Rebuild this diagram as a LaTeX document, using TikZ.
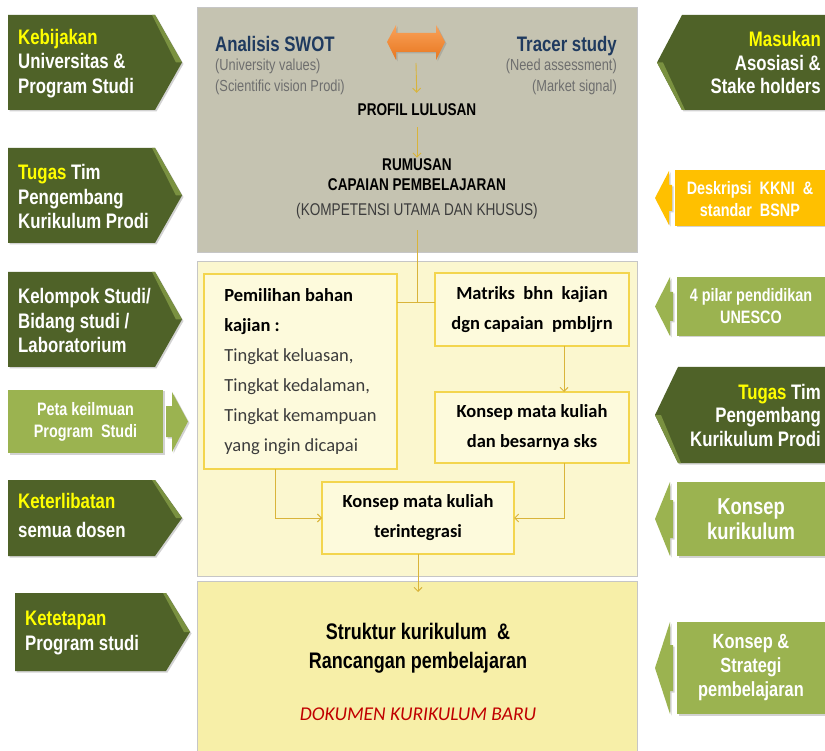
\documentclass[tikz,border=0pt]{standalone}
\usepackage{fontspec}
\setmainfont{Liberation Sans}
\newfontfamily\nar[FakeStretch=0.8]{Liberation Sans}
\newfontfamily\calfont{Carlito}
\usetikzlibrary{arrows.meta,calc,shadows}
\definecolor{dkgreen}{HTML}{4F6228}
\definecolor{bevel}{HTML}{7A9140}
\definecolor{ltgreen}{HTML}{9BB350}
\definecolor{goldbox}{HTML}{FFC000}
\definecolor{graybox}{HTML}{C5C3B1}
\definecolor{paleyel}{HTML}{FBF7CF}
\definecolor{boxyel}{HTML}{FDFADC}
\definecolor{boxedge}{HTML}{F3D54E}
\definecolor{botyel}{HTML}{F7EFA8}
\definecolor{linecol}{HTML}{D9B43A}
\definecolor{navy}{HTML}{1F3A5F}
\definecolor{hiyel}{HTML}{FFFF00}
\definecolor{dokred}{HTML}{C00000}
\definecolor{orngA}{HTML}{F9A25A}
\definecolor{orngB}{HTML}{E8761E}
\definecolor{subgray}{HTML}{6E6E6E}
\definecolor{txtgray}{HTML}{3C3C3C}
\begin{document}
\begin{tikzpicture}[x=1pt,y=-1pt,
  shd/.style={drop shadow={opacity=0.35,shadow xshift=1.5pt,shadow yshift=-1.5pt}},
  bigtxt/.style={font=\nar\bfseries\fontsize{21}{24.5}\selectfont, text=white, inner sep=0pt},
  smtxt/.style={font=\nar\bfseries\fontsize{18}{22}\selectfont, text=white, align=center, inner sep=0pt},
  panel/.style={draw=gray!45, line width=0.6pt, inner sep=0pt, outer sep=0pt},
  inbox/.style={draw=boxedge, line width=1.2pt, fill=boxyel, inner sep=0pt, outer sep=0pt,
    font=\calfont\bfseries\fontsize{18.5}{30}\selectfont},
  ln/.style={draw=linecol, line width=0.9pt},
  arr/.style={ln, -{Straight Barb[length=4pt,width=8pt]}}]
\useasboundingbox (0,0) rectangle (825,751);
\fill[white] (0,0) rectangle (825,751);

% ---------- central panels ----------
\node[panel, fill=graybox, minimum width=440pt, minimum height=245pt] (toppanel) at (417,129.5) {};
\node[panel, fill=paleyel, minimum width=440pt, minimum height=315pt] (midpanel) at (417,418.5) {};
\node[panel, fill=botyel, minimum width=440pt, minimum height=171pt] (botpanel) at (417,666.5) {};

% ---------- top panel content ----------
\shade[top color=orngA, bottom color=orngB, shd]
  (387,42) -- (396,25) -- (396,33) -- (436,33) -- (436,25) -- (445,42)
  -- (436,60) -- (436,52) -- (396,52) -- (396,60) -- cycle;
\coordinate (dblS) at (416,63);

\node[font=\nar\bfseries\fontsize{21}{24}\selectfont, text=navy, anchor=base west, inner sep=0pt] (swot) at (215,52) {Analisis SWOT};
\node[font=\nar\fontsize{16}{21}\selectfont, text=subgray, anchor=north west, align=left, inner sep=0pt] (swotsub) at (215,59) {(University values)\\(Scientific vision Prodi)};
\node[font=\nar\bfseries\fontsize{21}{24}\selectfont, text=navy, anchor=base east, inner sep=0pt] (tracer) at (617,52) {Tracer study};
\node[font=\nar\fontsize{16}{21}\selectfont, text=subgray, anchor=north east, align=right, inner sep=0pt] (tracersub) at (617,59) {(Need assessment)\\(Market signal)};

\node[font=\nar\bfseries\fontsize{17}{20}\selectfont, inner sep=0pt] (profil) at (417,110) {PROFIL LULUSAN};
\node[font=\nar\bfseries\fontsize{17}{20}\selectfont, align=center, inner sep=0pt] (rum) at (417,189)
  {RUMUSAN\\CAPAIAN PEMBELAJARAN\\[5pt]{\mdseries\color{txtgray}(KOMPETENSI UTAMA DAN KHUSUS)}};

\draw[arr, shorten >=11pt] (dblS) -- (profil.north);
\draw[arr, shorten <=11pt, shorten >=1pt] (profil.south) -- (rum.north);

% ---------- middle panel boxes ----------
\node[inbox, minimum width=193pt, minimum height=195pt, align=left] (pem) at (300.5,371.5)
  {Pemilihan bahan\\kajian :\\{\mdseries\color{txtgray}Tingkat keluasan,}\\{\mdseries\color{txtgray}Tingkat kedalaman,}\\{\mdseries\color{txtgray}Tingkat kemampuan}\\{\mdseries\color{txtgray}yang ingin dicapai}};
\node[inbox, minimum width=194pt, minimum height=73pt, align=center] (mat) at (532,309.5)
  {Matriks~~bhn~~kajian\\dgn capaian~~pmbljrn};
\node[inbox, minimum width=194pt, minimum height=71pt, align=center] (sks) at (532,427.5)
  {Konsep mata kuliah\\dan besarnya sks};
\node[inbox, minimum width=192pt, minimum height=72pt, align=center] (integ) at (418,518)
  {Konsep mata kuliah\\terintegrasi};

\coordinate (jn) at (417,302);
\draw[ln, shorten <=11pt] (rum.south) -- (jn);
\draw[ln] (pem.east |- jn) -- (mat.west |- jn);
\draw[arr] ($(mat.south)+(32,0)$) -- ($(sks.north)+(32,0)$);
\draw[arr] ($(pem.south)+(-25.5,0)$) |- (integ.west);
\draw[arr] ($(sks.south)+(32,0)$) |- (integ.east);
\coordinate (botin) at (418,592);
\draw[arr] (integ.south) -- (botin);

% ---------- bottom panel ----------
\node[font=\nar\bfseries\fontsize{22.5}{29}\selectfont, align=center, inner sep=0pt] (strukt) at (418,648)
  {Struktur kurikulum~~\&\\Rancangan pembelajaran};
\node[font=\calfont\itshape\fontsize{19.5}{22}\selectfont, text=dokred, inner sep=0pt] (dok) at (418,714)
  {DOKUMEN KURIKULUM BARU};

% ---------- left side ----------
\fill[dkgreen, shd] (8,15) -- (155,15) -- (182,62.5) -- (155,110) -- (8,110) -- cycle;
\fill[bevel] (152,15) -- (155,15) -- (182,62.5) -- (176,62.5) -- cycle;
\node[bigtxt, anchor=west, align=left] (kebij) at (18,63.5) {\textcolor{hiyel}{Kebijakan}\\Universitas \&\\Program Studi};

\fill[dkgreen, shd] (8,148) -- (155,148) -- (182,195.5) -- (155,243) -- (8,243) -- cycle;
\fill[bevel] (152,148) -- (155,148) -- (182,195.5) -- (176,195.5) -- cycle;
\node[bigtxt, anchor=west, align=left] (tugasL) at (18,196.5) {\textcolor{hiyel}{Tugas} Tim\\Pengembang\\Kurikulum Prodi};

\fill[dkgreen, shd] (8,272) -- (155,272) -- (182,319.5) -- (155,367) -- (8,367) -- cycle;
\fill[bevel] (152,272) -- (155,272) -- (182,319.5) -- (176,319.5) -- cycle;
\node[bigtxt, anchor=west, align=left] (kelompok) at (18,320.5) {Kelompok Studi/\\Bidang studi /\\Laboratorium};

\node[fill=ltgreen, shd, minimum width=155pt, minimum height=63pt, inner sep=0pt] (petabox) at (85.5,421.5) {};
\node[smtxt] (peta) at (85.5,421.5) {Peta keilmuan\\Program~~Studi};
\fill[ltgreen, shd] (188,421.5) -- (172,392) -- (172,406) -- (166,406) -- (166,437) -- (172,437) -- (172,452) -- cycle;

\fill[dkgreen, shd] (8,480) -- (155,480) -- (182,518) -- (155,556) -- (8,556) -- cycle;
\fill[bevel] (152,480) -- (155,480) -- (182,518) -- (176,518) -- cycle;
\node[bigtxt, anchor=west, align=left, font=\nar\bfseries\fontsize{21}{29}\selectfont] (keter) at (18,515) {\textcolor{hiyel}{Keterlibatan}\\semua dosen};

\fill[dkgreen, shd] (15,593) -- (166,593) -- (190,632) -- (166,671) -- (15,671) -- cycle;
\fill[bevel] (163,593) -- (166,593) -- (190,632) -- (184,632) -- cycle;
\node[bigtxt, anchor=west, align=left] (ketet) at (25,633) {\textcolor{hiyel}{Ketetapan}\\Program studi};

% ---------- right side ----------
\fill[dkgreen, shd] (826,15) -- (682,15) -- (657,62.5) -- (682,110) -- (826,110) -- cycle;
\fill[bevel] (685,110) -- (682,110) -- (657,62.5) -- (663,62.5) -- cycle;
\node[bigtxt, anchor=east, align=right, font=\nar\bfseries\fontsize{21}{23.5}\selectfont] (masukan) at (821,62.5) {\textcolor{hiyel}{Masukan}\\Asosiasi \&\\Stake holders};

\node[fill=goldbox, shd, minimum width=150pt, minimum height=56pt, inner sep=0pt] (kknibox) at (750,198) {};
\node[smtxt] (kkni) at (750,199) {Deskripsi~~KKNI~~\&\\standar~~BSNP};
\fill[goldbox, shd] (655,198) -- (669,171) -- (669,185) -- (672,185) -- (672,211) -- (669,211) -- (669,225) -- cycle;

\node[fill=ltgreen, shd, minimum width=148pt, minimum height=59pt, inner sep=0pt] (pilarbox) at (751,306.5) {};
\node[smtxt] (pilar) at (751,306.5) {4 pilar pendidikan\\UNESCO};
\fill[ltgreen, shd] (655,306.5) -- (670,277) -- (670,292) -- (673,292) -- (673,321) -- (670,321) -- (670,336) -- cycle;

\fill[dkgreen, shd] (826,367) -- (678,367) -- (655,415) -- (678,463) -- (826,463) -- cycle;
\fill[bevel] (681,463) -- (678,463) -- (655,415) -- (661,415) -- cycle;
\node[bigtxt, anchor=east, align=right, font=\nar\bfseries\fontsize{21}{23.5}\selectfont] (tugasR) at (821,415) {\textcolor{hiyel}{Tugas} Tim\\Pengembang\\Kurikulum Prodi};

\node[fill=ltgreen, shd, minimum width=148pt, minimum height=74pt, inner sep=0pt] (kkbox) at (751,519) {};
\node[smtxt, font=\nar\bfseries\fontsize{23}{25}\selectfont] (kk) at (751,519) {Konsep\\kurikulum};
\fill[ltgreen, shd] (655,519) -- (670,482) -- (670,500) -- (673,500) -- (673,538) -- (670,538) -- (670,556) -- cycle;

\node[fill=ltgreen, shd, minimum width=148pt, minimum height=92pt, inner sep=0pt] (ksbox) at (751,668) {};
\node[smtxt, font=\nar\bfseries\fontsize{20.5}{24}\selectfont] (ks) at (751,668) {Konsep \&\\Strategi\\pembelajaran};
\fill[ltgreen, shd] (655,668) -- (670,622) -- (670,645) -- (673,645) -- (673,691) -- (670,691) -- (670,714) -- cycle;
\end{tikzpicture}
\end{document}
